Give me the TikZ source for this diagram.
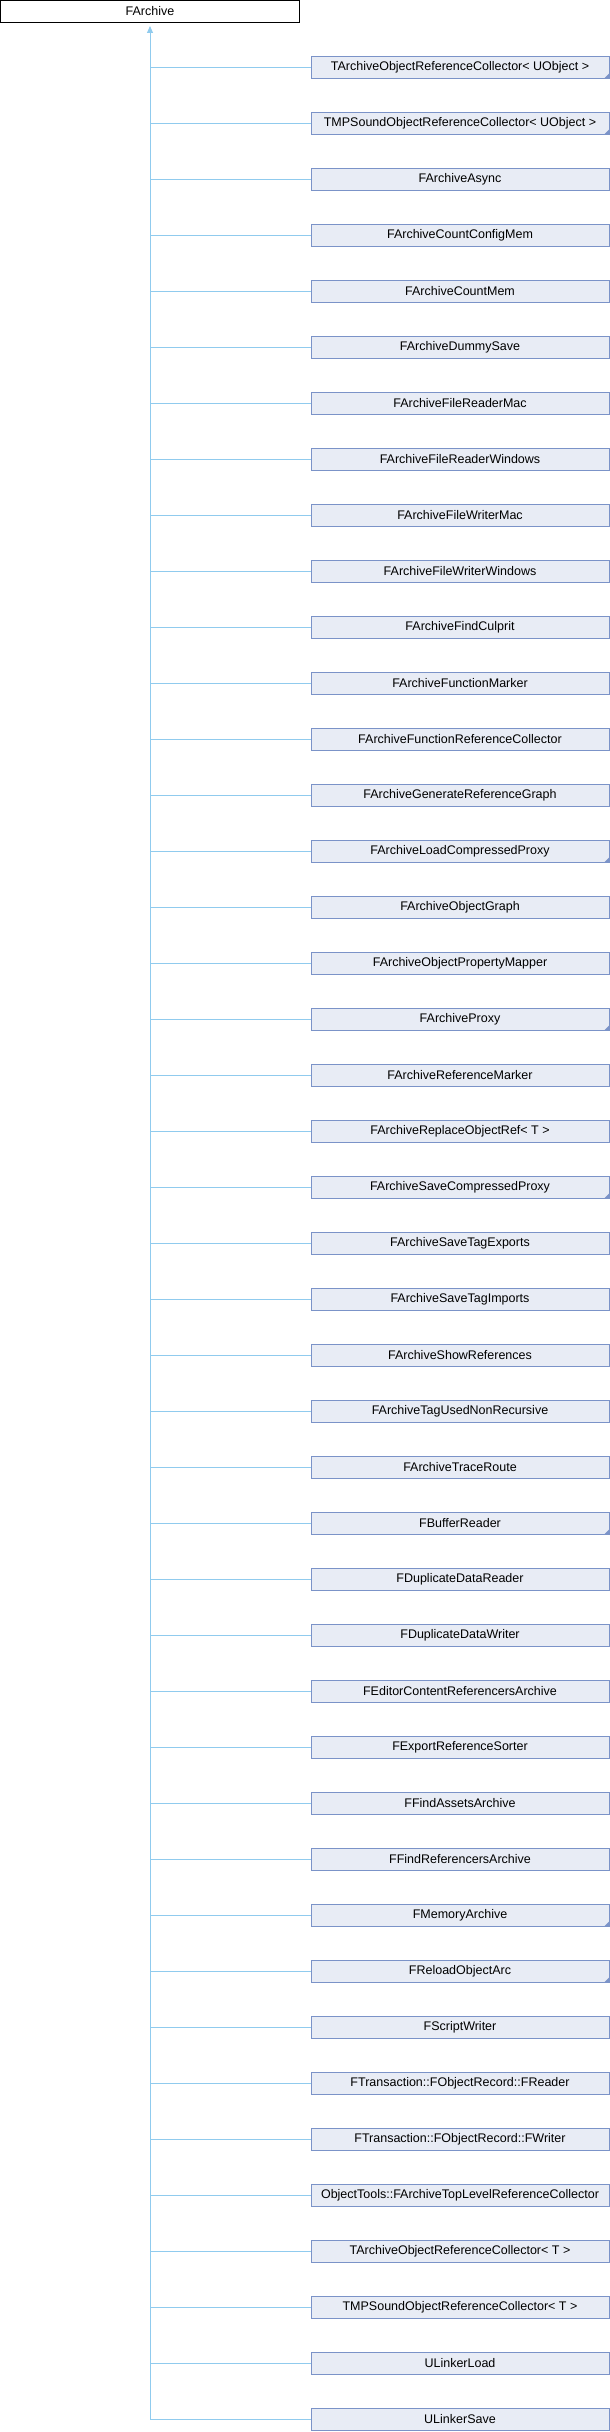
\documentclass[tikz,border=0pt]{standalone}
\usepackage{fontspec}
\setmainfont{Liberation Sans}
\usetikzlibrary{arrows.meta}
\definecolor{boxfill}{HTML}{E8ECF5}
\definecolor{boxline}{HTML}{7B93C8}
\definecolor{linkline}{HTML}{90CBEE}
\begin{document}
\begin{tikzpicture}[x=1pt,y=-1pt,
    base/.style={draw=black,fill=white,line width=1pt,minimum width=299pt,minimum height=22pt,inner sep=0pt,font=\fontsize{12.5}{14}\selectfont},
    derived/.style={draw=boxline,fill=boxfill,line width=1pt,minimum width=298pt,minimum height=22pt,inner sep=0pt,font=\fontsize{12.5}{14}\selectfont},
    more/.style={derived,path picture={\fill[boxline] (path picture bounding box.south east) -- ++(-5pt,0pt) -- ++(5pt,5pt) -- cycle;}},
    link/.style={draw=linkline,line width=1pt}]
    \useasboundingbox (0,0) rectangle (610,2432);

    \node[base] (archive) at (150,11.5) {FArchive};

    \node[more] (tcollu) at (460,67.5) {TArchiveObjectReferenceCollector< UObject >};
    \node[more] (tmpsu) at (460,123.5) {TMPSoundObjectReferenceCollector< UObject >};
    \node[derived] (async) at (460,179.5) {FArchiveAsync};
    \node[derived] (cfgmem) at (460,235.5) {FArchiveCountConfigMem};
    \node[derived] (countmem) at (460,291.5) {FArchiveCountMem};
    \node[derived] (dummy) at (460,347.5) {FArchiveDummySave};
    \node[derived] (rdmac) at (460,403.5) {FArchiveFileReaderMac};
    \node[derived] (rdwin) at (460,459.5) {FArchiveFileReaderWindows};
    \node[derived] (wrmac) at (460,515.5) {FArchiveFileWriterMac};
    \node[derived] (wrwin) at (460,571.5) {FArchiveFileWriterWindows};
    \node[derived] (culprit) at (460,627.5) {FArchiveFindCulprit};
    \node[derived] (fmarker) at (460,683.5) {FArchiveFunctionMarker};
    \node[derived] (fcoll) at (460,739.5) {FArchiveFunctionReferenceCollector};
    \node[derived] (gengraph) at (460,795.5) {FArchiveGenerateReferenceGraph};
    \node[more] (loadcp) at (460,851.5) {FArchiveLoadCompressedProxy};
    \node[derived] (objgraph) at (460,907.5) {FArchiveObjectGraph};
    \node[derived] (propmap) at (460,963.5) {FArchiveObjectPropertyMapper};
    \node[more] (proxy) at (460,1019.5) {FArchiveProxy};
    \node[derived] (refmarker) at (460,1075.5) {FArchiveReferenceMarker};
    \node[derived] (replace) at (460,1131.5) {FArchiveReplaceObjectRef< T >};
    \node[more] (savecp) at (460,1187.5) {FArchiveSaveCompressedProxy};
    \node[derived] (tagexp) at (460,1243.5) {FArchiveSaveTagExports};
    \node[derived] (tagimp) at (460,1299.5) {FArchiveSaveTagImports};
    \node[derived] (showref) at (460,1355.5) {FArchiveShowReferences};
    \node[derived] (tagused) at (460,1411.5) {FArchiveTagUsedNonRecursive};
    \node[derived] (trace) at (460,1467.5) {FArchiveTraceRoute};
    \node[more] (bufrd) at (460,1523.5) {FBufferReader};
    \node[derived] (duprd) at (460,1579.5) {FDuplicateDataReader};
    \node[derived] (dupwr) at (460,1635.5) {FDuplicateDataWriter};
    \node[derived] (editref) at (460,1691.5) {FEditorContentReferencersArchive};
    \node[derived] (exportsort) at (460,1747.5) {FExportReferenceSorter};
    \node[derived] (findassets) at (460,1803.5) {FFindAssetsArchive};
    \node[derived] (findrefs) at (460,1859.5) {FFindReferencersArchive};
    \node[more] (memarc) at (460,1915.5) {FMemoryArchive};
    \node[more] (reload) at (460,1971.5) {FReloadObjectArc};
    \node[derived] (script) at (460,2027.5) {FScriptWriter};
    \node[derived] (txrd) at (460,2083.5) {FTransaction::FObjectRecord::FReader};
    \node[derived] (txwr) at (460,2139.5) {FTransaction::FObjectRecord::FWriter};
    \node[derived] (toplevel) at (460,2195.5) {ObjectTools::FArchiveTopLevelReferenceCollector};
    \node[derived] (tcollt) at (460,2251.5) {TArchiveObjectReferenceCollector< T >};
    \node[derived] (tmpst) at (460,2307.5) {TMPSoundObjectReferenceCollector< T >};
    \node[derived] (lnkload) at (460,2363.5) {ULinkerLoad};
    \node[derived] (lnksave) at (460,2419.5) {ULinkerSave};

    \draw[link,-{Triangle[width=6pt,length=7pt]},shorten >=3pt] (archive.south |- lnksave.west) -- (archive.south);

    \draw[link] (archive.south |- tcollu.west) -- (tcollu.west);
    \draw[link] (archive.south |- tmpsu.west) -- (tmpsu.west);
    \draw[link] (archive.south |- async.west) -- (async.west);
    \draw[link] (archive.south |- cfgmem.west) -- (cfgmem.west);
    \draw[link] (archive.south |- countmem.west) -- (countmem.west);
    \draw[link] (archive.south |- dummy.west) -- (dummy.west);
    \draw[link] (archive.south |- rdmac.west) -- (rdmac.west);
    \draw[link] (archive.south |- rdwin.west) -- (rdwin.west);
    \draw[link] (archive.south |- wrmac.west) -- (wrmac.west);
    \draw[link] (archive.south |- wrwin.west) -- (wrwin.west);
    \draw[link] (archive.south |- culprit.west) -- (culprit.west);
    \draw[link] (archive.south |- fmarker.west) -- (fmarker.west);
    \draw[link] (archive.south |- fcoll.west) -- (fcoll.west);
    \draw[link] (archive.south |- gengraph.west) -- (gengraph.west);
    \draw[link] (archive.south |- loadcp.west) -- (loadcp.west);
    \draw[link] (archive.south |- objgraph.west) -- (objgraph.west);
    \draw[link] (archive.south |- propmap.west) -- (propmap.west);
    \draw[link] (archive.south |- proxy.west) -- (proxy.west);
    \draw[link] (archive.south |- refmarker.west) -- (refmarker.west);
    \draw[link] (archive.south |- replace.west) -- (replace.west);
    \draw[link] (archive.south |- savecp.west) -- (savecp.west);
    \draw[link] (archive.south |- tagexp.west) -- (tagexp.west);
    \draw[link] (archive.south |- tagimp.west) -- (tagimp.west);
    \draw[link] (archive.south |- showref.west) -- (showref.west);
    \draw[link] (archive.south |- tagused.west) -- (tagused.west);
    \draw[link] (archive.south |- trace.west) -- (trace.west);
    \draw[link] (archive.south |- bufrd.west) -- (bufrd.west);
    \draw[link] (archive.south |- duprd.west) -- (duprd.west);
    \draw[link] (archive.south |- dupwr.west) -- (dupwr.west);
    \draw[link] (archive.south |- editref.west) -- (editref.west);
    \draw[link] (archive.south |- exportsort.west) -- (exportsort.west);
    \draw[link] (archive.south |- findassets.west) -- (findassets.west);
    \draw[link] (archive.south |- findrefs.west) -- (findrefs.west);
    \draw[link] (archive.south |- memarc.west) -- (memarc.west);
    \draw[link] (archive.south |- reload.west) -- (reload.west);
    \draw[link] (archive.south |- script.west) -- (script.west);
    \draw[link] (archive.south |- txrd.west) -- (txrd.west);
    \draw[link] (archive.south |- txwr.west) -- (txwr.west);
    \draw[link] (archive.south |- toplevel.west) -- (toplevel.west);
    \draw[link] (archive.south |- tcollt.west) -- (tcollt.west);
    \draw[link] (archive.south |- tmpst.west) -- (tmpst.west);
    \draw[link] (archive.south |- lnkload.west) -- (lnkload.west);
    \draw[link] (archive.south |- lnksave.west) -- (lnksave.west);
\end{tikzpicture}
\end{document}
